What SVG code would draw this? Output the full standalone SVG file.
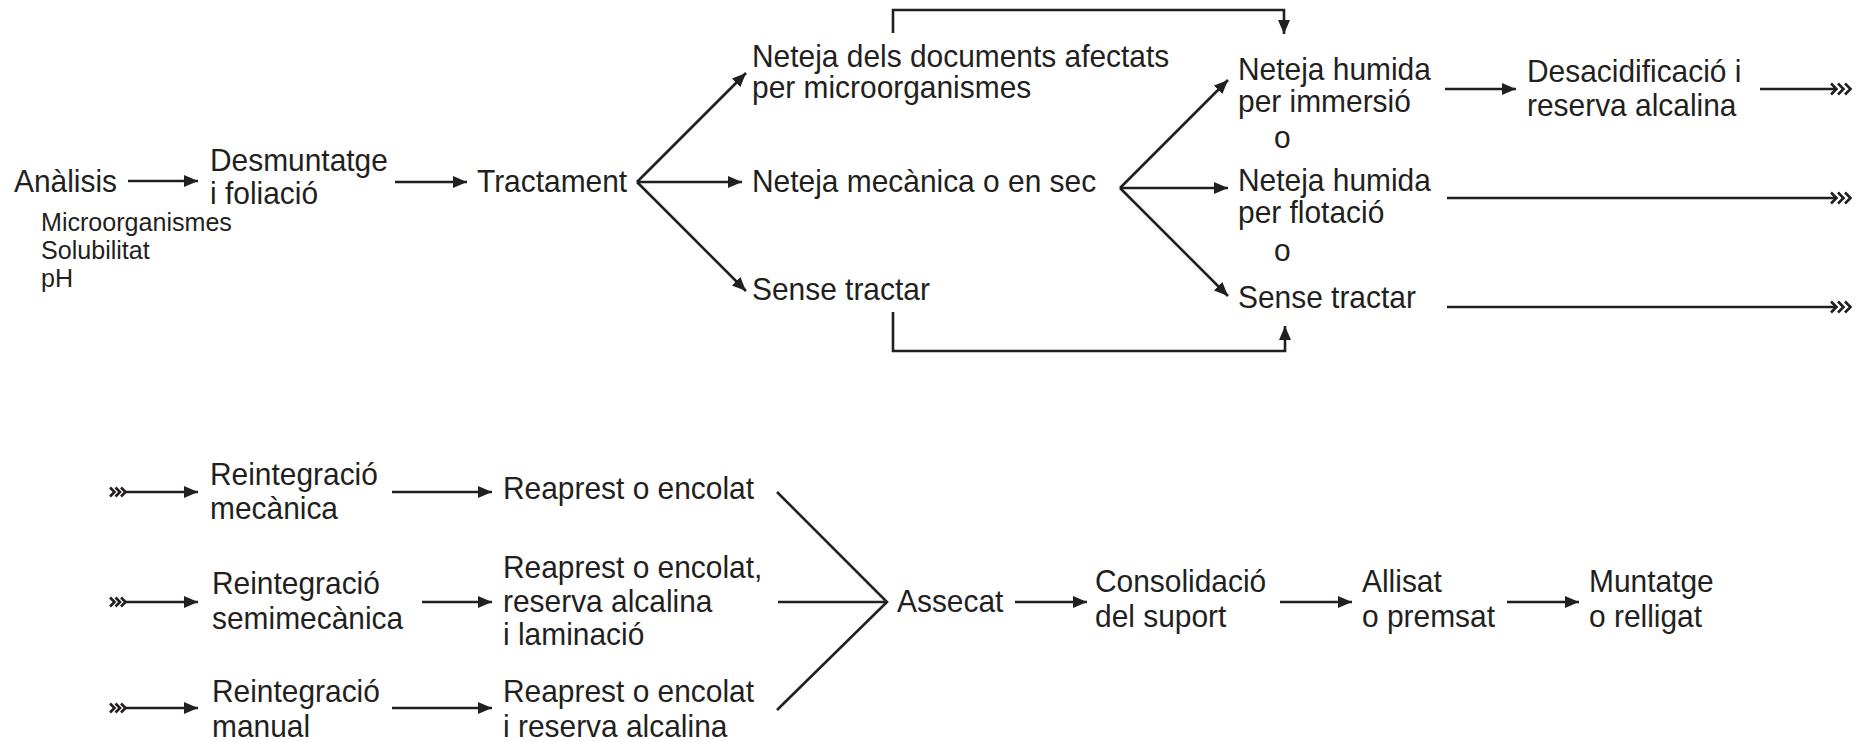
<svg xmlns="http://www.w3.org/2000/svg" width="1860" height="742" viewBox="0 0 1860 742">
<style>
text{font-family:"Liberation Sans",Arial,sans-serif;font-size:31px;fill:#231f20}
.s{font-size:26px}
.c{stroke:#231f20;stroke-width:2.6;fill:none}
.ch{stroke:#231f20;stroke-width:2.6;fill:none;stroke-linejoin:miter}
</style>
<defs>
<marker id="ah" viewBox="0 0 14 12" refX="14" refY="6" markerWidth="14" markerHeight="12" markerUnits="userSpaceOnUse" orient="auto">
<path d="M0,0 L14,6 L0,12 z" fill="#231f20"/>
</marker>
<path id="chev" d="M0,-5.5 L5.5,0 L0,5.5"/>
<path id="chevs" d="M0,-4.5 L4.5,0 L0,4.5"/>
</defs>
<rect width="1860" height="742" fill="#ffffff"/>

<g id="connectors">
<line class="c" x1="128" y1="181" x2="198" y2="181" marker-end="url(#ah)"/>
<line class="c" x1="395" y1="182" x2="467" y2="182" marker-end="url(#ah)"/>
<line class="c" x1="637" y1="182" x2="742" y2="182" marker-end="url(#ah)"/>
<line class="c" x1="637" y1="182" x2="746" y2="73" marker-end="url(#ah)"/>
<line class="c" x1="637" y1="182" x2="746" y2="291" marker-end="url(#ah)"/>
<polyline class="c" points="893,33 893,10 1284,10 1284,34" marker-end="url(#ah)"/>
<polyline class="c" points="893,312 893,351 1285,351 1285,326" marker-end="url(#ah)"/>
<line class="c" x1="1120" y1="188" x2="1228" y2="80" marker-end="url(#ah)"/>
<line class="c" x1="1120" y1="188" x2="1228" y2="188" marker-end="url(#ah)"/>
<line class="c" x1="1120" y1="188" x2="1228" y2="296" marker-end="url(#ah)"/>
<line class="c" x1="1445" y1="89" x2="1516" y2="89" marker-end="url(#ah)"/>
<line class="c" x1="1760" y1="89" x2="1836" y2="89"/>
<line class="c" x1="1447" y1="198" x2="1836" y2="198"/>
<line class="c" x1="1447" y1="307" x2="1836" y2="307"/>
<g class="ch">
<use href="#chev" x="1831" y="89"/><use href="#chev" x="1838" y="89"/><use href="#chev" x="1845" y="89"/>
<use href="#chev" x="1831" y="198"/><use href="#chev" x="1838" y="198"/><use href="#chev" x="1845" y="198"/>
<use href="#chev" x="1831" y="307"/><use href="#chev" x="1838" y="307"/><use href="#chev" x="1845" y="307"/>
</g>
<g class="ch">
<use href="#chevs" x="110" y="492"/><use href="#chevs" x="115.5" y="492"/><use href="#chevs" x="121" y="492"/>
<use href="#chevs" x="110" y="602"/><use href="#chevs" x="115.5" y="602"/><use href="#chevs" x="121" y="602"/>
<use href="#chevs" x="110" y="708"/><use href="#chevs" x="115.5" y="708"/><use href="#chevs" x="121" y="708"/>
</g>
<line class="c" x1="124" y1="492" x2="198" y2="492" marker-end="url(#ah)"/>
<line class="c" x1="124" y1="602" x2="198" y2="602" marker-end="url(#ah)"/>
<line class="c" x1="124" y1="708" x2="198" y2="708" marker-end="url(#ah)"/>
<line class="c" x1="392" y1="492" x2="492" y2="492" marker-end="url(#ah)"/>
<line class="c" x1="422" y1="602" x2="492" y2="602" marker-end="url(#ah)"/>
<line class="c" x1="392" y1="708" x2="492" y2="708" marker-end="url(#ah)"/>
<polyline class="c" points="777,492 887,602 777,710"/>
<line class="c" x1="778" y1="602" x2="887" y2="602"/>
<line class="c" x1="1015" y1="602" x2="1087" y2="602" marker-end="url(#ah)"/>
<line class="c" x1="1280" y1="602" x2="1352" y2="602" marker-end="url(#ah)"/>
<line class="c" x1="1507" y1="602" x2="1579" y2="602" marker-end="url(#ah)"/>
</g>

<g id="analisis" transform="translate(14 0) scale(0.965 1)"><text x="0" y="192">Anàlisis</text></g>
<g id="analisis-detail" transform="translate(41 0) scale(0.965 1)"><text class="s" x="0" y="231">Microorganismes</text>
<text class="s" x="0" y="259">Solubilitat</text>
<text class="s" x="0" y="287">pH</text></g>
<g id="desmuntatge" transform="translate(210 0) scale(0.965 1)"><text x="0" y="171">Desmuntatge</text><text x="0" y="204">i foliació</text></g>
<g id="tractament" transform="translate(477 0) scale(0.965 1)"><text x="0" y="192">Tractament</text></g>
<g id="neteja-micro" transform="translate(752 0) scale(0.965 1)"><text x="0" y="67">Neteja dels documents afectats</text><text x="0" y="98">per microorganismes</text></g>
<g id="neteja-mecanica" transform="translate(752 0) scale(0.965 1)"><text x="0" y="192">Neteja mecànica o en sec</text></g>
<g id="sense-tractar-1" transform="translate(752 0) scale(0.965 1)"><text x="0" y="300">Sense tractar</text></g>
<g id="neteja-immersio" transform="translate(1238 0) scale(0.965 1)"><text x="0" y="80">Neteja humida</text><text x="0" y="112">per immersió</text></g>
<g id="o-1" transform="translate(1274 0) scale(0.965 1)"><text x="0" y="148">o</text></g>
<g id="neteja-flotacio" transform="translate(1238 0) scale(0.965 1)"><text x="0" y="191">Neteja humida</text><text x="0" y="223">per flotació</text></g>
<g id="o-2" transform="translate(1274 0) scale(0.965 1)"><text x="0" y="261">o</text></g>
<g id="sense-tractar-2" transform="translate(1238 0) scale(0.965 1)"><text x="0" y="308">Sense tractar</text></g>
<g id="desacidificacio" transform="translate(1527 0) scale(0.965 1)"><text x="0" y="82">Desacidificació i</text><text x="0" y="116">reserva alcalina</text></g>

<g id="reint-mecanica" transform="translate(210 0) scale(0.965 1)"><text x="0" y="485">Reintegració</text><text x="0" y="519">mecànica</text></g>
<g id="reint-semimecanica" transform="translate(212 0) scale(0.965 1)"><text x="0" y="594">Reintegració</text><text x="0" y="629">semimecànica</text></g>
<g id="reint-manual" transform="translate(212 0) scale(0.965 1)"><text x="0" y="702">Reintegració</text><text x="0" y="737">manual</text></g>
<g id="reaprest-1" transform="translate(503 0) scale(0.965 1)"><text x="0" y="499">Reaprest o encolat</text></g>
<g id="reaprest-2" transform="translate(503 0) scale(0.965 1)"><text x="0" y="578">Reaprest o encolat,</text><text x="0" y="612">reserva alcalina</text><text x="0" y="645">i laminació</text></g>
<g id="reaprest-3" transform="translate(503 0) scale(0.965 1)"><text x="0" y="702">Reaprest o encolat</text><text x="0" y="737">i reserva alcalina</text></g>
<g id="assecat" transform="translate(897 0) scale(0.965 1)"><text x="0" y="612">Assecat</text></g>
<g id="consolidacio" transform="translate(1095 0) scale(0.965 1)"><text x="0" y="592">Consolidació</text><text x="0" y="627">del suport</text></g>
<g id="allisat" transform="translate(1362 0) scale(0.965 1)"><text x="0" y="592">Allisat</text><text x="0" y="627">o premsat</text></g>
<g id="muntatge" transform="translate(1589 0) scale(0.965 1)"><text x="0" y="592">Muntatge</text><text x="0" y="627">o relligat</text></g>
</svg>
